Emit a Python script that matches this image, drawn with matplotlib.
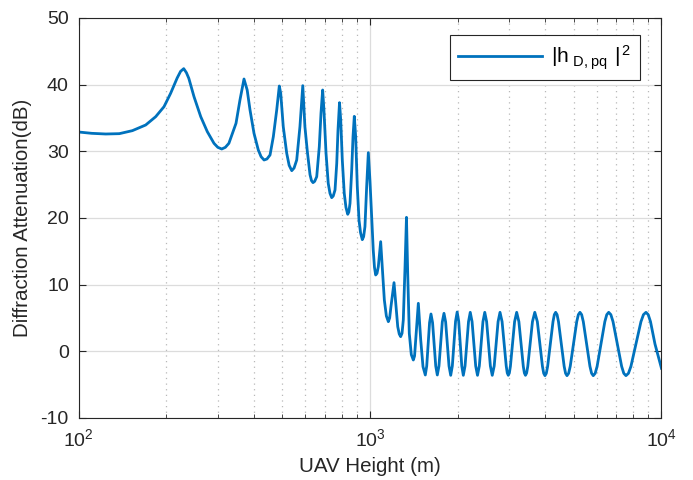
import matplotlib
matplotlib.use("Agg")
import matplotlib.pyplot as plt
from matplotlib.ticker import LogLocator, NullFormatter

plt.rcParams['font.family'] = ['Liberation Sans', 'DejaVu Sans']
plt.rcParams['mathtext.default'] = 'regular'
plt.rcParams['axes.unicode_minus'] = False

# UAV height (m) and diffraction attenuation (dB)
height = [
    100, 111, 124, 138, 153, 170, 184, 196.5, 207, 218, 224, 229.6, 234.5, 239, 249, 262.6, 276.6, 291.6,
    300.5, 310, 319, 328, 347, 358, 369.6, 379, 387.6, 400, 413.8, 423, 433, 443, 454, 466, 478.6, 488.5,
    494, 504, 518, 528, 539, 549, 560.5, 575, 588, 598, 609.5, 622.6, 630, 637.6, 646, 656.5, 670, 679,
    688, 695, 706.6, 719, 729, 739, 748, 758.6, 769, 776.7, 786, 793.5, 803.5, 816, 827, 838.6, 846, 854,
    865.5, 874.5, 883.4, 893, 904.6, 916.8, 928, 941, 951, 961, 974, 987, 1000, 1013.5, 1026, 1036, 1046,
    1057, 1068, 1088, 1102, 1120, 1138, 1156, 1168, 1180, 1209, 1228, 1245, 1260, 1274, 1288, 1301, 1319,
    1334, 1347, 1364, 1386, 1408, 1422, 1435, 1465, 1493, 1520,
    1548, 1565.4, 1583, 1600.9, 1619, 1639.4, 1660, 1680.9, 1702, 1724.4, 1747, 1770.3, 1794, 1817.8,
    1842, 1866.8, 1892, 1916.3, 1941, 1965.8, 1991, 2015.3, 2040, 2064.9, 2090, 2118.8, 2148, 2177.8,
    2208, 2239.8, 2272, 2304.8, 2338, 2371.8, 2406, 2440.7, 2476, 2512.7, 2550, 2588.2, 2627, 2667.7,
    2709, 2750.7, 2793, 2839.1, 2886, 2933.6, 2957.7, 2982, 3006.9,
    3032, 3082, 3134, 3186, 3242, 3299, 3357, 3385.9, 3415, 3446.4, 3478, 3543, 3609, 3676, 3751, 3827,
    3905, 3944.3, 3984, 4026.3, 4069, 4156, 4245, 4289.8, 4335, 4383.7, 4433, 4533, 4636, 4688.2, 4741,
    4802.1, 4864, 4990, 5120, 5186, 5253, 5322.6, 5393, 5536, 5683, 5758, 5834, 5923.8, 6015, 6201,
    6393, 6491, 6591, 6704.5, 6820, 7056, 7300, 7425.4, 7553, 7703.5, 7857, 8174, 8504, 8673.8, 8847,
    9007, 9170, 9500, 10000,
]
attenuation = [
    32.9, 32.7, 32.6, 32.65, 33.1, 33.95, 35.2, 36.7, 38.7, 41.0, 42.0, 42.4, 41.8, 40.95, 38.2, 35.2, 32.95, 31.2,
    30.6, 30.35, 30.6, 31.2, 34.2, 37.7, 40.85, 39.2, 36.2, 32.7, 30.2, 29.2, 28.7, 28.85, 29.45, 32.2, 36.2, 39.8,
    38.7, 33.7, 29.7, 27.9, 27.1, 27.5, 28.7, 33.7, 39.85, 33.7, 30.0, 26.5, 25.6, 25.3, 25.5, 26.2, 30.7, 35.7,
    39.2, 36.2, 29.7, 25.2, 23.7, 23.05, 23.3, 24.2, 28.2, 33.2, 37.3, 34.7, 28.7, 23.7, 21.6, 20.55, 20.9, 22.2,
    27.2, 32.2, 35.25, 32.2, 24.7, 19.7, 17.8, 16.75, 17.2, 18.7, 24.7, 29.8, 25.5, 20.0, 15.2, 12.6, 11.45,
    11.7, 12.7, 16.45, 12.7, 7.7, 5.3, 4.45, 5.0, 6.7, 10.3, 6.7, 3.7, 2.6, 2.2, 2.7, 4.7, 12.7,
    20.1, 11.7, 2.7, -0.5, -1.3, -0.7, 1.7, 7.2, 1.7, -2.3,
    -3.55, -2.2, 1.1, 4.3, 5.6, 4.3, 1.1, -2.2, -3.55, -2.2, 1.1, 4.4, 5.7, 4.4,
    1.1, -2.2, -3.6, -2.2, 1.1, 4.5, 5.9, 4.5, 1.1, -2.2, -3.6, -2.2, 1.1, 4.45,
    5.85, 4.45, 1.1, -2.2, -3.6, -2.2, 1.1, 4.45, 5.85, 4.45, 1.1, -2.2, -3.6, -2.2,
    1.1, 4.45, 5.85, 4.45, 1.1, -2.2, -3.25, -3.6, -3.25,
    -2.25, 1.1, 4.45, 5.85, 4.45, 1.1, -2.25, -3.25, -3.6, -3.25, -2.25, 1.1, 4.45, 5.85, 4.45, 1.1,
    -2.25, -3.3, -3.65, -3.3, -2.25, 1.1, 4.45, 5.5, 5.85, 5.5, 4.45, 1.1, -2.25, -3.3, -3.65,
    -3.3, -2.25, 1.1, 4.45, 5.5, 5.85, 5.5, 4.45, 1.1, -2.25, -3.3, -3.65, -3.3, -2.25, 1.1,
    4.45, 5.5, 5.85, 5.5, 4.45, 1.1, -2.25, -3.3, -3.65, -3.3, -2.25, 1.1, 4.45, 5.5, 5.85,
    5.5, 4.45, 1.1, -2.55,
]

legend_label = r'$|h_{\ D,pq}\ |^{\,2}$'
x_label = 'UAV Height (m)'
y_label = 'Diffraction Attenuation(dB)'
y_ticks = [-10, 0, 10, 20, 30, 40, 50]

fig = plt.figure(figsize=(6.93, 4.80), dpi=100)
ax = fig.add_axes([0.1133, 0.1292, 0.8412, 0.8333])

ax.plot(height, attenuation, color='#0072BD', lw=2.0, label=legend_label,
        solid_joinstyle='round')

ax.set_xscale('log')
ax.set_xlim(100, 10000)
ax.set_ylim(-10, 50)
ax.set_yticks(y_ticks)
ax.xaxis.set_major_locator(LogLocator(base=10, numticks=10))
ax.xaxis.set_minor_locator(LogLocator(base=10, subs=range(2, 10), numticks=20))
ax.xaxis.set_minor_formatter(NullFormatter())

ax.grid(True, which='major', color='#dcdcdc', lw=0.9, ls='-')
ax.grid(True, which='minor', axis='x', color='#b8b8b8', lw=0.9, ls=(0, (1, 3.5)))
ax.set_axisbelow(True)

ax.tick_params(which='both', direction='in', top=True, right=True, colors='#262626',
               labelsize=14, labelcolor='#262626')
ax.tick_params(which='major', length=5, width=0.8)
ax.tick_params(which='minor', length=3, width=0.6)
ax.tick_params(axis='x', which='major', pad=7)
ax.tick_params(axis='y', which='major', pad=7)
for sp in ax.spines.values():
    sp.set_color('#262626')
    sp.set_linewidth(0.8)

ax.set_xlabel(x_label, fontsize=14.8, color='#262626', labelpad=5)
ax.set_ylabel(y_label, fontsize=14.8, color='#262626', labelpad=6)

leg = ax.legend(loc='upper right', bbox_to_anchor=(0.963, 0.9575), fontsize=15,
                handlelength=4.0, frameon=True, fancybox=False, borderaxespad=0,
                borderpad=0.4, handletextpad=0.45)
leg.get_frame().set_edgecolor('#262626')
leg.get_frame().set_linewidth(0.8)
leg.get_frame().set_alpha(1)

fig.savefig('out.png', dpi=100)
